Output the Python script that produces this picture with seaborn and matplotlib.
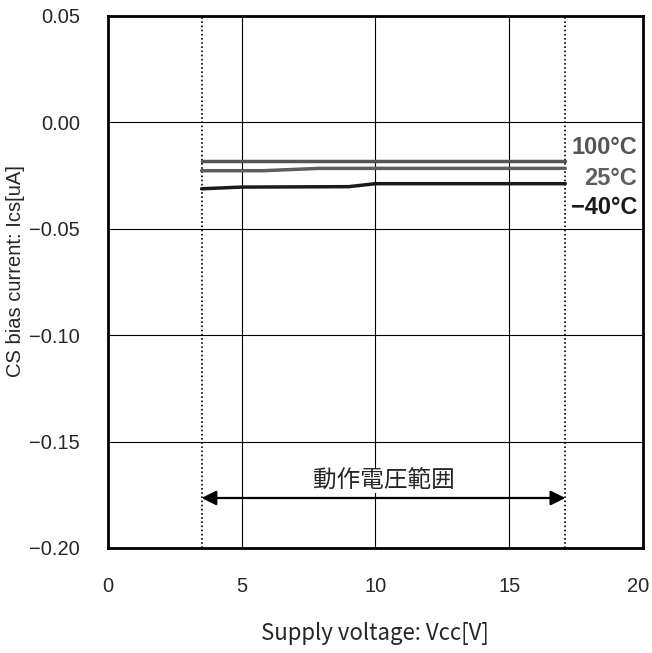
import matplotlib
matplotlib.use("Agg")
import matplotlib.pyplot as plt
import matplotlib.transforms as mtransforms
import numpy as np
import pandas as pd
import seaborn as sns

# datos
vcc_100 = [3.5, 17.1]
ics_100 = [-0.018, -0.018]
vcc_25 = [3.5, 5.8, 7.9, 17.1]
ics_25 = [-0.0227, -0.0227, -0.0216, -0.0216]
vcc_m40 = [3.5, 5.0, 9.0, 10.0, 17.1]
ics_m40 = [-0.0312, -0.0304, -0.0302, -0.0288, -0.0288]

temp_labels = ["100°C", "25°C", "−40°C"]
temp_label_y = [-0.0118, -0.0263, -0.0400]
temp_colors = ["#555555", "#5e5e5e", "#1a1a1a"]

x_ticks = [0, 5, 10, 15, 20]
y_ticks = [0.05, 0.00, -0.05, -0.10, -0.15, -0.20]
y_tick_labels = ["0.05", "0.00", "−0.05", "−0.10", "−0.15", "−0.20"]

rango_vcc = [3.5, 17.1]
rango_texto = "動作電圧範囲"

df = pd.concat([
    pd.DataFrame({"Vcc": vcc_100, "Ics": ics_100, "Temp": temp_labels[0]}),
    pd.DataFrame({"Vcc": vcc_25, "Ics": ics_25, "Temp": temp_labels[1]}),
    pd.DataFrame({"Vcc": vcc_m40, "Ics": ics_m40, "Temp": temp_labels[2]}),
], ignore_index=True)

sns.set_style("white")
plt.rcParams['font.family'] = ['Liberation Sans', 'DejaVu Sans']

fig = plt.figure(figsize=(6.52, 6.53), dpi=100)
ax = fig.add_axes([0.1656, 0.1608, 0.8204, 0.8147])

sns.lineplot(data=df, x="Vcc", y="Ics", hue="Temp",
             palette=dict(zip(temp_labels, temp_colors)),
             linewidth=2.5, legend=False, ax=ax, zorder=3)

ax.set_xlim(0, 20)
ax.set_ylim(-0.20, 0.05)
ax.set_xticks(x_ticks)
ax.set_yticks(y_ticks)
ax.set_yticklabels(y_tick_labels)
ax.tick_params(axis='both', length=0, labelsize=14.5)
ax.tick_params(axis='x', pad=21)
ax.tick_params(axis='y', pad=20)
ax.grid(True, color='black', linewidth=0.8, zorder=1)
ax.set_axisbelow(True)
for s in ax.spines.values():
    s.set_linewidth(2)
    s.set_color('black')

# el "20" queda un poco a la izquierda para no cortarse
ult = ax.get_xticklabels()[-1]
ult.set_transform(ult.get_transform() + mtransforms.ScaledTranslation(-5 / 100, 0, fig.dpi_scale_trans))

# limites del rango de operacion
for xv in rango_vcc:
    ax.axvline(xv, color='black', linestyle=(0, (1, 1.5)), linewidth=1.2, zorder=2)

ax.annotate('', xy=(rango_vcc[0], -0.1765), xytext=(rango_vcc[1], -0.1765),
            arrowprops=dict(arrowstyle='<|-|>', color='black', lw=1.6,
                            mutation_scale=22, shrinkA=0, shrinkB=0), zorder=4)
ax.text(10.3, -0.1685, rango_texto, ha='center', va='center', fontsize=17,
        family=['Noto Sans CJK JP', 'DejaVu Sans'],
        bbox=dict(fc='white', ec='none', pad=0.5), zorder=4)

for lab, yv, c in zip(temp_labels, temp_label_y, temp_colors):
    ax.text(19.78, yv, lab, ha='right', va='center', fontsize=17,
            fontweight='bold', color=c, zorder=4)

ax.set_xlabel("Supply voltage: Vcc[V]", fontsize=16,
              family=['Noto Sans CJK JP', 'DejaVu Sans'])
ax.xaxis.set_label_coords(0.5, -0.14)
ax.set_ylabel("CS bias current: Ics[uA]", fontsize=14.5)
ax.yaxis.set_label_coords(-0.155, 0.52)

plt.savefig("out.png", dpi=100)
